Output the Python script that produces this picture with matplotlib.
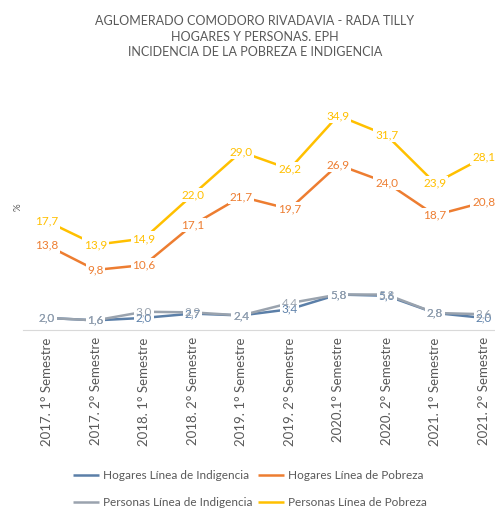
import matplotlib
matplotlib.use("Agg")
import matplotlib.pyplot as plt

plt.rcParams['font.family'] = ['Lato', 'DejaVu Sans']

# Data
periods = ["2017. 1° Semestre", "2017. 2° Semestre", "2018. 1° Semestre", "2018. 2° Semestre",
           "2019. 1° Semestre", "2019. 2° Semestre", "2020.1° Semestre", "2020. 2° Semestre",
           "2021. 1° Semestre", "2021. 2° Semestre"]
hogares_indigencia = [2.0, 1.6, 2.0, 2.7, 2.4, 3.4, 5.8, 5.6, 2.8, 2.0]
hogares_pobreza = [13.8, 9.8, 10.6, 17.1, 21.7, 19.7, 26.9, 24.0, 18.7, 20.8]
personas_indigencia = [2.0, 1.6, 3.0, 2.9, 2.4, 4.4, 5.8, 5.8, 2.8, 2.6]
personas_pobreza = [17.7, 13.9, 14.9, 22.0, 29.0, 26.2, 34.9, 31.7, 23.9, 28.1]

series = [
    ("Hogares Línea de Indigencia", hogares_indigencia, "#5B7FA8"),
    ("Hogares Línea de Pobreza", hogares_pobreza, "#ED7D31"),
    ("Personas Línea de Indigencia", personas_indigencia, "#9AA3AE"),
    ("Personas Línea de Pobreza", personas_pobreza, "#FFC000"),
]
text_grey = "#595959"

fig = plt.figure(figsize=(4.95, 5.08), dpi=100)
ax = fig.add_axes([0.046, 0.350, 0.98, 0.4843])
x = list(range(len(periods)))

lines = []
for name, vals, col in series:
    ln, = ax.plot(x, vals, color=col, lw=1.8, label=name, zorder=2, solid_capstyle='butt')
    lines.append(ln)

# white patches behind labels first, then the label texts on top
for name, vals, col in series:
    for xi, v in zip(x, vals):
        ax.text(xi, v, f"{v:.1f}".replace(".", ","), ha='center', va='center', fontsize=8.5,
                color='none', zorder=3,
                bbox=dict(boxstyle='square,pad=0.15', fc='white', ec='none'))
for name, vals, col in series:
    for xi, v in zip(x, vals):
        ax.text(xi, v, f"{v:.1f}".replace(".", ","), ha='center', va='center', fontsize=8.5,
                color=col, zorder=4)

ax.set_xlim(-0.5, len(periods) - 0.5)
ax.set_ylim(0, 40)
ax.set_xticks(x)
ax.set_xticklabels(periods, rotation=90, fontsize=9.5, color=text_grey)
ax.set_yticks([])
ax.tick_params(axis='x', length=0, pad=5)
for s in ['top', 'right', 'left']:
    ax.spines[s].set_visible(False)
ax.spines['bottom'].set_color('#D9D9D9')
ax.set_ylabel("%", fontsize=7, color=text_grey, labelpad=0)

fig.text(0.515, 0.970, "AGLOMERADO COMODORO RIVADAVIA - RADA TILLY\nHOGARES Y PERSONAS. EPH\nINCIDENCIA DE LA POBREZA E INDIGENCIA",
         ha='center', va='top', fontsize=9, color=text_grey, linespacing=1.35)

# legend filled column-wise: put Hogares on the top row, Personas below
order = [0, 2, 1, 3]
fig.legend([lines[i] for i in order], [series[i][0] for i in order],
           loc='center', bbox_to_anchor=(0.505, 0.037), ncol=2, frameon=False, fontsize=8.5,
           labelcolor=text_grey, handlelength=2.2, columnspacing=0.5, labelspacing=1.4,
           handletextpad=0.3)

fig.savefig("out.png", dpi=100)
